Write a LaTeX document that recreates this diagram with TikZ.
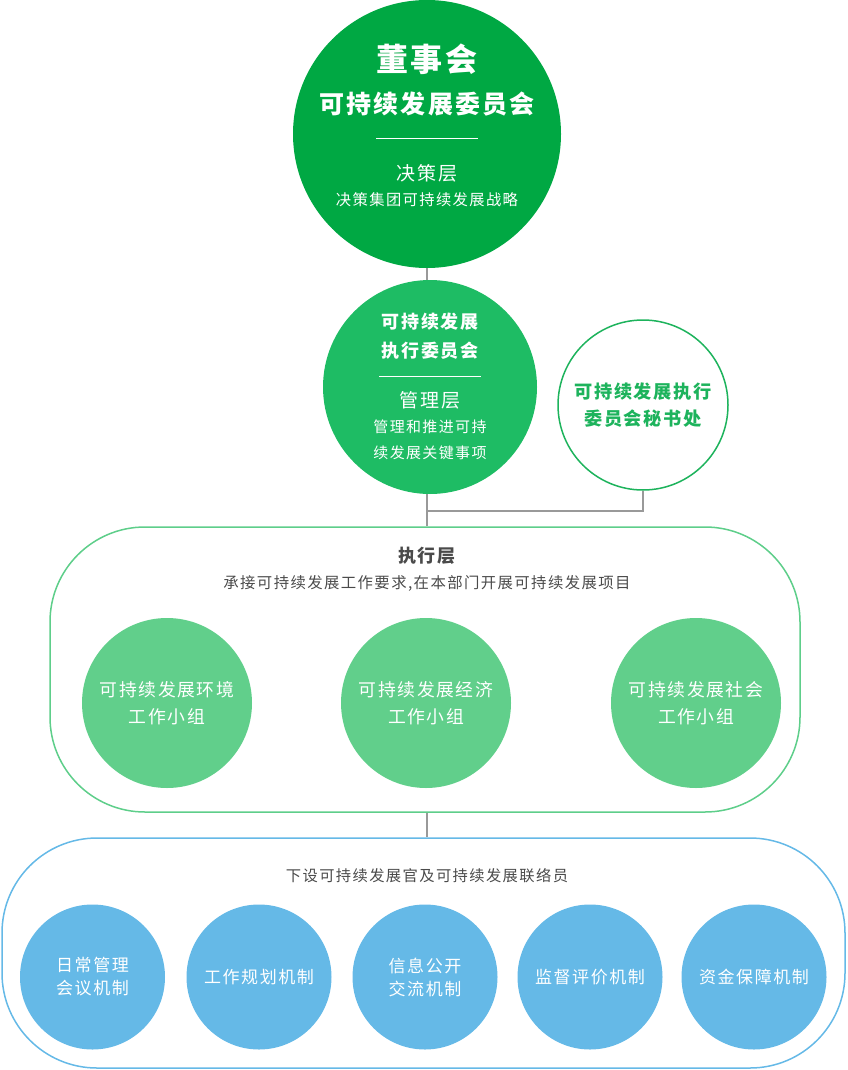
\documentclass[tikz,border=0pt]{standalone}
\usepackage{fontspec}
\setmainfont[LetterSpace=9]{Noto Sans CJK SC}
\usetikzlibrary{positioning,calc}
\definecolor{boardgreen}{HTML}{00A843}
\definecolor{mgmtgreen}{HTML}{1EBC64}
\definecolor{officegreen}{HTML}{1DB35C}
\definecolor{groupgreen}{HTML}{61CF8B}
\definecolor{boxgreen}{HTML}{5ECE8A}
\definecolor{mechblue}{HTML}{65B9E7}
\definecolor{linegray}{HTML}{999999}
\definecolor{textgray}{HTML}{4A4A4A}

\begin{document}
\begin{tikzpicture}
                    [x=1pt,y=-1pt,
                     bigc/.style={circle,fill=#1,inner sep=0,text=white,align=center},
                     txt/.style={text=white,align=center,inner sep=0,font=\fontsize{#1}{#1}\selectfont},
                     conn/.style={draw=linegray,line width=1.5pt},
                     sep/.style={draw=white,line width=0.8pt},
                     container/.style={draw=#1,line width=1.5pt,rounded corners=95pt,inner sep=0}]

                        \useasboundingbox (0,0) rectangle (847,1070);

                        \node[bigc=boardgreen,minimum size=268] (board) at (427,134) {};
                        \node[txt=32] (boardname) at (427,59) {\bfseries 董事会};
                        \node[txt=25] (boardsub) at (427,104) {\bfseries 可持续发展委员会};
                        \draw[sep] (376,138) -- (478,138);
                        \node[txt=19] (boardlayer) at (427,173) {决策层};
                        \node[txt=15.3] (boardrole) at (427,200) {决策集团可持续发展战略};

                        \node[bigc=mgmtgreen,minimum size=214] (mgmt) at (430,387) {};
                        \node[txt=18,align=center,font=\fontsize{18}{29}\selectfont\bfseries] (mgmtname) at (430,336.5) {可持续发展\\执行委员会};
                        \draw[sep] (379,376) -- (481,376);
                        \node[txt=19] (mgmtlayer) at (430,400) {管理层};
                        \node[txt=15,font=\fontsize{15}{26}\selectfont] (mgmtrole) at (430,440) {管理和推进可持\\续发展关键事项};

                        \node[circle,draw=officegreen,line width=1.5pt,fill=white,minimum size=170,inner sep=0,
                              text=officegreen,align=center,font=\fontsize{18.2}{27}\selectfont\bfseries] (office) at (643,405) {可持续发展执行\\委员会秘书处};

                        \node[container=boxgreen,minimum width=750,minimum height=285] (execbox) at (425,669.5) {};
                        \node[text=textgray,inner sep=0,font=\fontsize{18}{18}\selectfont\bfseries] (exectitle) at (427,556) {执行层};
                        \node[text=textgray,inner sep=0,font=\fontsize{15.4}{15}\selectfont] (execrole) at (427,583) {承接可持续发展工作要求,在本部门开展可持续发展项目};

                        \foreach \x/\name/\lbl in {167/grp1/环境,426/grp2/经济,696/grp3/社会}
                            \node[bigc=groupgreen,minimum size=170,font=\fontsize{17.8}{27}\selectfont] (\name) at (\x,703) {可持续发展\lbl\\工作小组};

                        \node[container=mechblue,minimum width=843,minimum height=230] (mechbox) at (423.5,953) {};
                        \node[text=textgray,inner sep=0,font=\fontsize{15.3}{15}\selectfont] (mechrole) at (427,876) {下设可持续发展官及可持续发展联络员};

                        \foreach \x/\name/\lbl in {92.5/mech1/{日常管理\\会议机制},259/mech2/工作规划机制,425/mech3/{信息公开\\交流机制},590/mech4/监督评价机制,754/mech5/资金保障机制}
                            \node[bigc=mechblue,minimum size=145,font=\fontsize{17}{23}\selectfont] (\name) at (\x,977) {\lbl};

                        \coordinate (join) at (427,511);
                        \draw[conn] (board.south) -- (board.south |- mgmt.north);
                        \draw[conn] (board.south |- mgmt.south) -- (board.south |- execbox.north);
                        \draw[conn] (join) -| (office.south);
                        \draw[conn] (board.south |- execbox.south) -- (board.south |- mechbox.north);

                \end{tikzpicture}
\end{document}
